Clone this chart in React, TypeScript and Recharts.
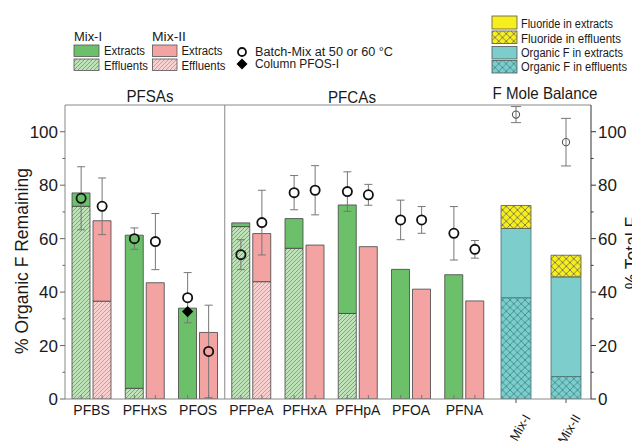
import React from 'react';
import { ComposedChart, Bar, Scatter, XAxis, YAxis, ErrorBar, ReferenceLine } from 'recharts';

// ---------- data ----------
const categories = ['PFBS', 'PFHxS', 'PFOS', 'PFPeA', 'PFHxA', 'PFHpA', 'PFOA', 'PFNA'];
const pfsaCount = 3;
const mix1Total = [77.1, 61.3, 34.0, 65.9, 67.5, 72.6, 48.5, 46.5];
const mix1Effluent = [72.1, 4.0, 0, 64.5, 56.4, 32.0, 0, 0];
const mix2Total = [66.7, 43.5, 24.9, 61.9, 57.6, 57.0, 41.1, 36.7];
const mix2Effluent = [36.6, 0, 0, 43.9, 0, 0, 0, 0];
const batch1 = [75.1, 60.0, 37.9, 54.0, 77.2, 77.6, 67.0, 62.0];
const batch1Err = [11.8, 4.0, 9.4, 5.6, 6.4, 7.4, 7.4, 10.0];
const batch2 = [72.1, 58.9, 17.8, 66.0, 78.1, 76.4, 67.0, 56.0];
const batch2Err = [10.6, 10.5, 17.3, 12.1, 9.2, 3.9, 5.0, 3.3];
const columnPFOSCategory = 'PFOS';
const columnPFOSValue = 32.7;

const mixes = ['Mix-I', 'Mix-II'];
const organicEffluent = [37.9, 8.4];
const organicExtract = [25.9, 37.3];
const fluorideEffluent = [8.6, 8.1];
const fluorideExtract = [0, 0];
const totalF = [106.4, 96.1];
const totalFErr = [3.0, 8.9];

const yTicks = [0, 10, 20, 30, 40, 50, 60, 70, 80, 90, 100];
const Y_MAX = 110;

// ---------- layout / style ----------
const W = 632;
const H = 441;
const PLOT_LEFT = 65;
const PLOT_RIGHT = 491;
const PLOT_TOP = 105;
const RIGHT_AXIS = 591;
const X_AXIS_H = 30;
const BOTTOM_M = 12;
const BAR = 18;
const GAP = 3;
const BAND = (PLOT_RIGHT - PLOT_LEFT) / categories.length;
const OFF = (BAR + GAP) / 2 / BAND;

const GREEN = '#6cc06a';
const PINK = '#f4a3a3';
const TEAL = '#7dcdcd';
const YELLOW = '#f7ee1e';
const FONT = '"Liberation Sans", Arial, Helvetica, sans-serif';
const TXT = '#1a1a1a';

const leftData = categories.map((name, i) => ({
  name,
  effI: mix1Effluent[i],
  extI: +(mix1Total[i] - mix1Effluent[i]).toFixed(2),
  effII: mix2Effluent[i],
  extII: +(mix2Total[i] - mix2Effluent[i]).toFixed(2),
}));

const batchIData = categories.map((_, i) => ({ x: i + 0.5 - OFF, y: batch1[i], err: batch1Err[i], idx: i, mix: 1 }));
const batchIIData = categories.map((_, i) => ({ x: i + 0.5 + OFF, y: batch2[i], err: batch2Err[i], idx: i, mix: 2 }));
const colIdx = categories.indexOf(columnPFOSCategory);
const columnData = [{ x: colIdx + 0.5 - OFF, y: columnPFOSValue }];

const rightData = mixes.map((name, i) => ({
  name,
  orgEff: organicEffluent[i],
  orgExt: organicExtract[i],
  fluEff: fluorideEffluent[i],
  fluExt: fluorideExtract[i],
  total: totalF[i],
  err: totalFErr[i],
}));

const fillFor = (mix: number, idx: number, v: number) => {
  const total = mix === 1 ? mix1Total[idx] : mix2Total[idx];
  const eff = mix === 1 ? mix1Effluent[idx] : mix2Effluent[idx];
  if (v > total) return '#ffffff';
  if (v > eff) return mix === 1 ? GREEN : PINK;
  return mix === 1 ? 'url(#hatchG)' : 'url(#hatchP)';
};

const circleShape = (p: any) => {
  const { cx, cy, payload } = p;
  if (cx == null || cy == null) return <g />;
  return (
    <circle cx={cx} cy={cy} r={4.6} fill={fillFor(payload.mix, payload.idx, payload.y)} stroke="#111" strokeWidth={1.8} />
  );
};

const diamondShape = (p: any) => {
  const { cx, cy } = p;
  if (cx == null || cy == null) return <g />;
  const s = 5.6;
  return <polygon points={`${cx},${cy - s} ${cx + s},${cy} ${cx},${cy + s} ${cx - s},${cy}`} fill="#000" />;
};

const smallCircle = (p: any) => {
  const { cx, cy } = p;
  if (cx == null || cy == null) return <g />;
  return <circle cx={cx} cy={cy} r={3.6} fill="none" stroke="#555" strokeWidth={1.1} />;
};

const leftYTick = (p: any) => {
  const v = p.payload.value;
  const major = v % 20 === 0;
  return (
    <g>
      <line x1={p.x + (major ? 2 : 4.5)} x2={p.x + 7} y1={p.y} y2={p.y} stroke="#666" strokeWidth={1} />
      {major && (
        <text x={p.x} y={p.y} dy="0.36em" textAnchor="end" fontSize={17} fill={TXT} fontFamily={FONT}>
          {v}
        </text>
      )}
    </g>
  );
};

const rightYTick = (p: any) => {
  const v = p.payload.value;
  const major = v % 20 === 0;
  return (
    <g>
      <line x1={p.x - 7} x2={p.x - (major ? 2 : 4.5)} y1={p.y} y2={p.y} stroke="#333" strokeWidth={1} />
      {major && (
        <text x={p.x} y={p.y} dy="0.36em" textAnchor="start" fontSize={17} fill={TXT} fontFamily={FONT}>
          {v}
        </text>
      )}
    </g>
  );
};

const catTick = (p: any) => {
  const axisY = p.y - 6;
  const dx = BAR / 2 + GAP / 2;
  return (
    <g>
      <line x1={p.x - dx} x2={p.x - dx} y1={axisY} y2={axisY - 4} stroke="#777" />
      <line x1={p.x + dx} x2={p.x + dx} y1={axisY} y2={axisY - 4} stroke="#777" />
      <text x={p.x} y={p.y} dy="0.74em" textAnchor="middle" fontSize={14} fill={TXT} fontFamily={FONT}>
        {p.payload.value}
      </text>
    </g>
  );
};

const mixTick = (p: any) => {
  const axisY = p.y - 6;
  const ax = p.x + 15;
  const ay = axisY + 18.5;
  return (
    <g>
      <line x1={p.x} x2={p.x} y1={axisY} y2={axisY + 4} stroke="#555" />
      <text x={ax} y={ay} textAnchor="end" fontSize={13} fill={TXT} fontFamily={FONT} transform={`rotate(-60 ${ax} ${ay})`}>
        {p.payload.value}
      </text>
    </g>
  );
};

const Defs = () => (
  <svg width={0} height={0} style={{ position: 'absolute' }}>
    <defs>
      <pattern id="hatchG" patternUnits="userSpaceOnUse" width="4" height="4">
        <rect width="4" height="4" fill="#bfe3b9" />
        <path d="M-1,1 l2,-2 M0,4 l4,-4 M3,5 l2,-2" stroke="#4f9a4c" strokeWidth="0.7" />
      </pattern>
      <pattern id="hatchP" patternUnits="userSpaceOnUse" width="4" height="4">
        <rect width="4" height="4" fill="#f9d0d0" />
        <path d="M-1,1 l2,-2 M0,4 l4,-4 M3,5 l2,-2" stroke="#cf8080" strokeWidth="0.7" />
      </pattern>
      <pattern id="xTeal" patternUnits="userSpaceOnUse" width="7.5" height="7.5">
        <rect width="7.5" height="7.5" fill={TEAL} />
        <path d="M0,0 L7.5,7.5 M7.5,0 L0,7.5" stroke="#2d7d7d" strokeWidth="0.7" />
      </pattern>
      <pattern id="xYellow" patternUnits="userSpaceOnUse" width="7.5" height="7.5">
        <rect width="7.5" height="7.5" fill={YELLOW} />
        <path d="M0,0 L7.5,7.5 M7.5,0 L0,7.5" stroke="#555" strokeWidth="0.7" />
      </pattern>
    </defs>
  </svg>
);

const Overlay = () => {
  const t = (x: number, y: number, s: string, size: number, len?: number, anchor: any = 'start') => (
    <text
      x={x}
      y={y}
      fontSize={size}
      textAnchor={anchor}
      fill={TXT}
      fontFamily={FONT}
      textLength={len}
      lengthAdjust={len ? 'spacingAndGlyphs' : undefined}
    >
      {s}
    </text>
  );
  const sw = (x: number, y: number, w: number, h: number, fill: string) => (
    <rect x={x} y={y} width={w} height={h} fill={fill} stroke="#555" strokeWidth={0.8} />
  );
  return (
    <svg width={W} height={H} style={{ position: 'absolute', left: 0, top: 0, pointerEvents: 'none' }}>
      {/* left legend */}
      {t(74, 40.7, 'Mix-I', 13, 28)}
      {t(152, 40.7, 'Mix-II', 13, 34)}
      {sw(74, 45, 25, 11.5, GREEN)}
      {sw(74, 59, 25, 11.5, 'url(#hatchG)')}
      {sw(152.5, 45, 24.5, 11.5, PINK)}
      {sw(152.5, 59, 24.5, 11.5, 'url(#hatchP)')}
      {t(104, 55, 'Extracts', 12, 41)}
      {t(104, 69.5, 'Effluents', 12, 44)}
      {t(181.5, 55, 'Extracts', 12, 41)}
      {t(181.5, 69.5, 'Effluents', 12, 44)}
      <circle cx={242} cy={52} r={4} fill="#fff" stroke="#111" strokeWidth={1.8} />
      <polygon points="242,58.5 247.5,64 242,69.5 236.5,64" fill="#000" />
      {t(255, 56, 'Batch-Mix at 50 or 60 °C', 12, 138)}
      {t(255, 68, 'Column PFOS-I', 12, 84)}
      {/* right legend */}
      {sw(492, 16, 25, 13, YELLOW)}
      {sw(492, 31, 25, 12.5, 'url(#xYellow)')}
      {sw(492, 46.5, 25, 12.5, TEAL)}
      {sw(492, 60.5, 25, 12.5, 'url(#xTeal)')}
      {t(521, 28, 'Fluoride in extracts', 12, 92)}
      {t(521, 42.5, 'Fluoride in effluents', 12, 100)}
      {t(521, 57, 'Organic F in extracts', 12, 102)}
      {t(521, 71, 'Organic F in effluents', 12, 106)}
      {/* section titles */}
      {t(150, 102, 'PFSAs', 16.5, 47, 'middle')}
      {t(352, 102.5, 'PFCAs', 16.5, 48, 'middle')}
      {t(545, 99, 'F Mole Balance', 16.5, 105, 'middle')}
      {/* axis titles */}
      <text x={28} y={261} fontSize={17.5} textAnchor="middle" fill={TXT} fontFamily={FONT} transform="rotate(-90 28 261)">
        % Organic F Remaining
      </text>
      <text x={638} y={253} fontSize={17.5} textAnchor="middle" fill={TXT} fontFamily={FONT} transform="rotate(-90 638 253)">
        % Total F
      </text>
    </svg>
  );
};

export default function App() {
  const segStroke = { stroke: '#444', strokeWidth: 0.8 };
  return (
    <div
      style={{
        position: 'absolute',
        left: 0,
        top: 0,
        width: W,
        height: H,
        overflow: 'hidden',
        background: '#fff',
        fontFamily: FONT,
      }}
    >
      <Defs />
      <div style={{ position: 'absolute', left: 0, top: 0 }}>
        <ComposedChart
          width={W}
          height={H}
          data={leftData}
          margin={{ top: PLOT_TOP, right: W - PLOT_RIGHT, bottom: BOTTOM_M, left: PLOT_LEFT - 50 }}
          barSize={BAR}
          barGap={GAP}
        >
          <XAxis
            dataKey="name"
            height={X_AXIS_H}
            interval={0}
            tickLine={false}
            tickSize={4}
            tickMargin={2}
            axisLine={{ stroke: '#888', strokeWidth: 1 }}
            tick={catTick}
          />
          <XAxis xAxisId="num" type="number" dataKey="x" domain={[0, categories.length]} hide allowDataOverflow />
          <YAxis
            width={50}
            domain={[0, Y_MAX]}
            ticks={yTicks}
            interval={0}
            allowDataOverflow
            tickLine={false}
            tickSize={5}
            tickMargin={2}
            axisLine={{ stroke: '#888', strokeWidth: 1 }}
            tick={leftYTick}
          />
          <ReferenceLine y={Y_MAX} stroke="#888" strokeWidth={1} />
          <ReferenceLine xAxisId="num" x={pfsaCount} stroke="#888" strokeWidth={1} />
          <Bar dataKey="effI" stackId="I" fill="url(#hatchG)" {...segStroke} isAnimationActive={false} />
          <Bar dataKey="extI" stackId="I" fill={GREEN} {...segStroke} isAnimationActive={false} />
          <Bar dataKey="effII" stackId="II" fill="url(#hatchP)" {...segStroke} isAnimationActive={false} />
          <Bar dataKey="extII" stackId="II" fill={PINK} {...segStroke} isAnimationActive={false} />
          <Scatter xAxisId="num" data={batchIData} dataKey="y" shape={circleShape} isAnimationActive={false}>
            <ErrorBar dataKey="err" direction="y" width={4} stroke="#777" strokeWidth={1} />
          </Scatter>
          <Scatter xAxisId="num" data={batchIIData} dataKey="y" shape={circleShape} isAnimationActive={false}>
            <ErrorBar dataKey="err" direction="y" width={4} stroke="#777" strokeWidth={1} />
          </Scatter>
          <Scatter xAxisId="num" data={columnData} dataKey="y" shape={diamondShape} isAnimationActive={false} />
        </ComposedChart>
      </div>
      <div style={{ position: 'absolute', left: 0, top: 0 }}>
        <ComposedChart
          width={W}
          height={H}
          data={rightData}
          margin={{ top: PLOT_TOP, right: 0, bottom: BOTTOM_M, left: PLOT_RIGHT }}
          barSize={30}
        >
          <XAxis
            dataKey="name"
            height={X_AXIS_H}
            interval={0}
            tickLine={false}
            tickSize={4}
            tickMargin={2}
            axisLine={{ stroke: '#888', strokeWidth: 1 }}
            tick={mixTick}
          />
          <YAxis
            yAxisId="l"
            orientation="left"
            width={0}
            domain={[0, Y_MAX]}
            tick={false}
            tickLine={false}
            axisLine={{ stroke: '#111', strokeWidth: 1 }}
          />
          <YAxis
            orientation="right"
            width={W - RIGHT_AXIS}
            domain={[0, Y_MAX]}
            ticks={yTicks}
            interval={0}
            allowDataOverflow
            tickLine={false}
            tickSize={5}
            tickMargin={2}
            axisLine={{ stroke: '#333', strokeWidth: 1 }}
            tick={rightYTick}
          />
          <ReferenceLine y={Y_MAX} stroke="#888" strokeWidth={1} />
          <Bar dataKey="orgEff" stackId="f" fill="url(#xTeal)" stroke="#4a6f6f" strokeWidth={0.8} isAnimationActive={false} />
          <Bar dataKey="orgExt" stackId="f" fill={TEAL} stroke="#4a6f6f" strokeWidth={0.8} isAnimationActive={false} />
          <Bar dataKey="fluEff" stackId="f" fill="url(#xYellow)" stroke="#555" strokeWidth={0.8} isAnimationActive={false} />
          <Bar dataKey="fluExt" stackId="f" fill={YELLOW} stroke="#555" strokeWidth={0.8} isAnimationActive={false} />
          <Scatter dataKey="total" shape={smallCircle} isAnimationActive={false}>
            <ErrorBar dataKey="err" direction="y" width={5} stroke="#777" strokeWidth={1} />
          </Scatter>
        </ComposedChart>
      </div>
      <Overlay />
    </div>
  );
}
